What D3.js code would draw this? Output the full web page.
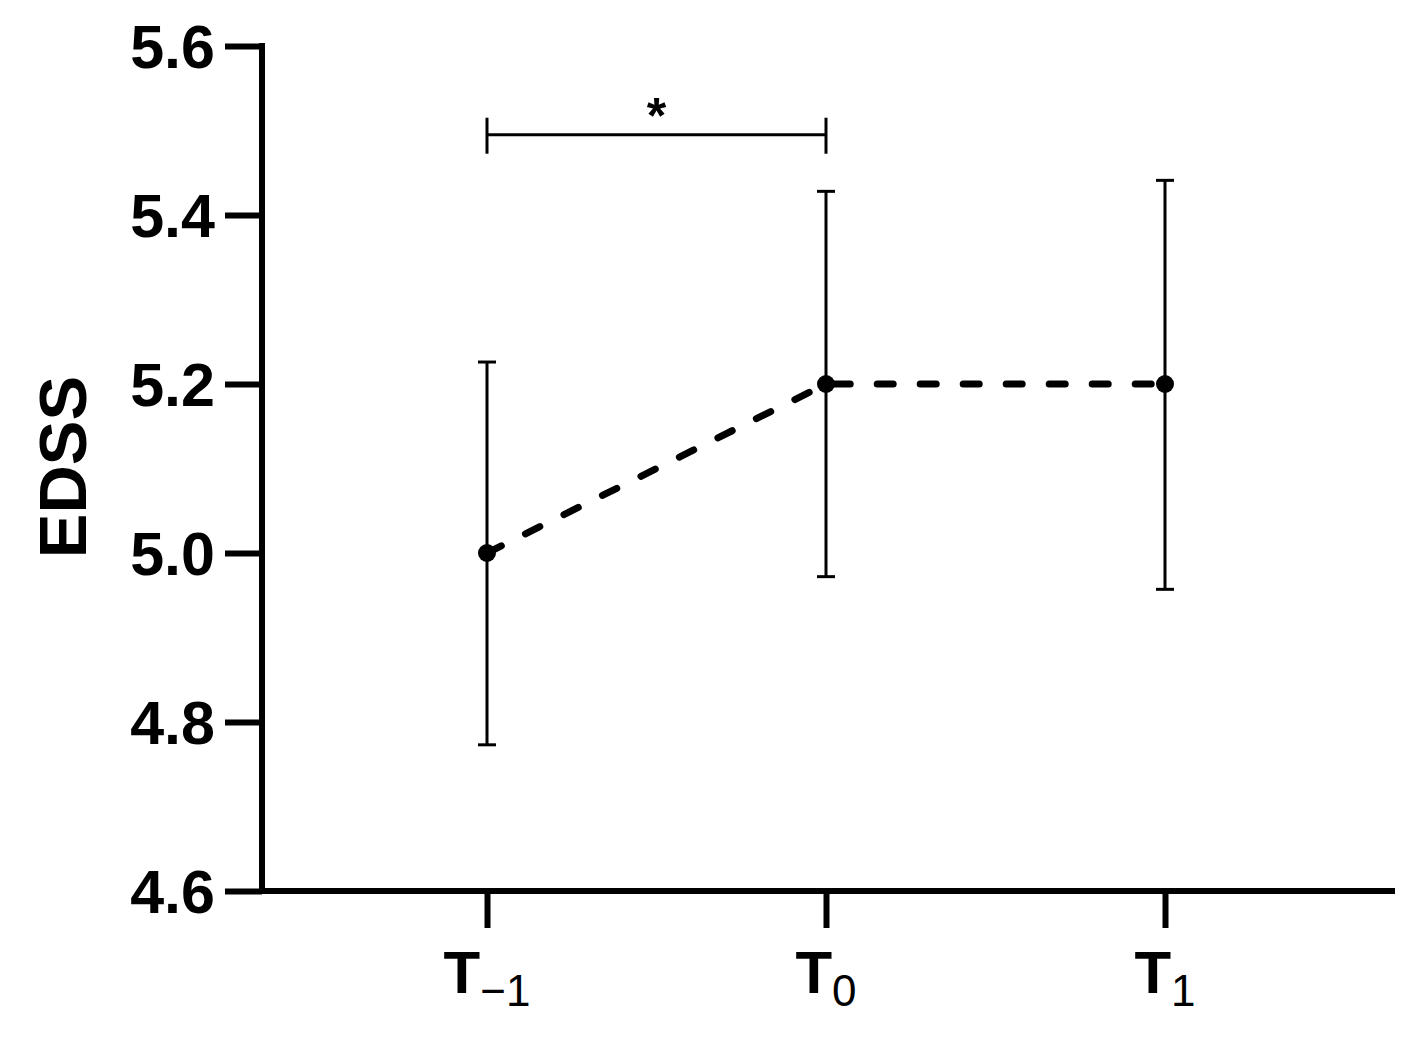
<!DOCTYPE html>
<html>
<head>
<meta charset="utf-8">
<title>EDSS</title>
<script src="https://d3js.org/d3.v7.min.js"></script>
<style>
  body { margin: 0; background: #fff; }
  text { font-family: "Liberation Sans", Arial, sans-serif; }
</style>
</head>
<body>
<script>
// data
var timepoints = ["T-1", "T0", "T1"];
var subscripts = ["\u22121", "0", "1"];
var means = [5.0, 5.2, 5.2];
var upper = [5.226, 5.428, 5.441];
var lower = [4.773, 4.972, 4.957];
var yTicks = [4.6, 4.8, 5.0, 5.2, 5.4, 5.6];
var sigPairs = [{from: 0, to: 1, y: 5.495, label: "*"}];

var W = 1422, H = 1051;
var svg = d3.select("body").append("svg")
    .attr("width", W)
    .attr("height", H);

var axisX = 262, axisRight = 1395;
var y = d3.scaleLinear().domain([4.6, 5.6]).range([891, 46]);
var x = d3.scalePoint().domain(timepoints).range([487, 1165]);

// y axis
var yAxis = svg.append("g").attr("transform", "translate(" + axisX + ",0)")
    .call(d3.axisLeft(y).tickValues(yTicks).tickFormat(d3.format(".1f")).tickSize(37).tickPadding(10));
yAxis.select(".domain").remove();
yAxis.selectAll(".tick line").attr("stroke", "#000").attr("stroke-width", 6);
yAxis.selectAll(".tick text").attr("fill", "#000")
    .style("font-size", "61px").style("font-weight", "bold")
    .attr("dy", "0.35em");
svg.append("line")
    .attr("x1", axisX).attr("x2", axisX)
    .attr("y1", y(5.6) - 3).attr("y2", y(4.6) + 3)
    .attr("stroke", "#000").attr("stroke-width", 6);

// x axis
var xAxis = svg.append("g").attr("transform", "translate(0," + y(4.6) + ")")
    .call(d3.axisBottom(x).tickSize(37).tickFormat(""));
xAxis.select(".domain").remove();
xAxis.selectAll(".tick line").attr("stroke", "#000").attr("stroke-width", 6);
svg.append("line")
    .attr("x1", axisX - 3).attr("x2", axisRight)
    .attr("y1", y(4.6)).attr("y2", y(4.6))
    .attr("stroke", "#000").attr("stroke-width", 6);

// x labels T with subscript
var lab = svg.append("g").selectAll("text").data(timepoints).enter().append("text")
    .attr("x", function(d) { return x(d); })
    .attr("y", 993)
    .attr("text-anchor", "middle")
    .attr("fill", "#000");
lab.append("tspan").style("font-size", "60px").style("font-weight", "bold").text("T");
lab.append("tspan").style("font-size", "44px").attr("dy", 13)
    .text(function(d, i) { return subscripts[i]; });

// y label
svg.append("text")
    .attr("transform", "translate(86,467) rotate(-90)")
    .attr("text-anchor", "middle")
    .attr("fill", "#000")
    .style("font-size", "67px").style("font-weight", "bold")
    .text("EDSS");

// error bars
var eb = svg.append("g").attr("stroke", "#000").attr("stroke-width", 3);
timepoints.forEach(function(t, i) {
  eb.append("line").attr("x1", x(t)).attr("x2", x(t)).attr("y1", y(upper[i])).attr("y2", y(lower[i]));
  eb.append("line").attr("x1", x(t) - 9).attr("x2", x(t) + 9).attr("y1", y(upper[i])).attr("y2", y(upper[i]));
  eb.append("line").attr("x1", x(t) - 9).attr("x2", x(t) + 9).attr("y1", y(lower[i])).attr("y2", y(lower[i]));
});

// dashed mean line
var line = d3.line().x(function(d, i) { return x(timepoints[i]); }).y(function(d) { return y(d); });
svg.append("path").datum(means)
    .attr("d", line)
    .attr("fill", "none")
    .attr("stroke", "#000")
    .attr("stroke-width", 7)
    .attr("stroke-linecap", "round")
    .attr("stroke-dasharray", "16,27");

// points
svg.append("g").selectAll("circle").data(means).enter().append("circle")
    .attr("cx", function(d, i) { return x(timepoints[i]); })
    .attr("cy", function(d) { return y(d); })
    .attr("r", 9)
    .attr("fill", "#000");

// significance bracket
sigPairs.forEach(function(p) {
  var x1 = x(timepoints[p.from]), x2 = x(timepoints[p.to]), yy = y(p.y);
  var g = svg.append("g").attr("stroke", "#000").attr("stroke-width", 3);
  g.append("line").attr("x1", x1).attr("x2", x2).attr("y1", yy).attr("y2", yy);
  g.append("line").attr("x1", x1).attr("x2", x1).attr("y1", yy - 17).attr("y2", yy + 19);
  g.append("line").attr("x1", x2).attr("x2", x2).attr("y1", yy - 17).attr("y2", yy + 19);
  svg.append("text")
    .attr("x", (x1 + x2) / 2)
    .attr("y", yy - 2)
    .attr("text-anchor", "middle")
    .attr("fill", "#000")
    .style("font-size", "50px").style("font-weight", "bold")
    .text(p.label);
});
</script>
</body>
</html>
